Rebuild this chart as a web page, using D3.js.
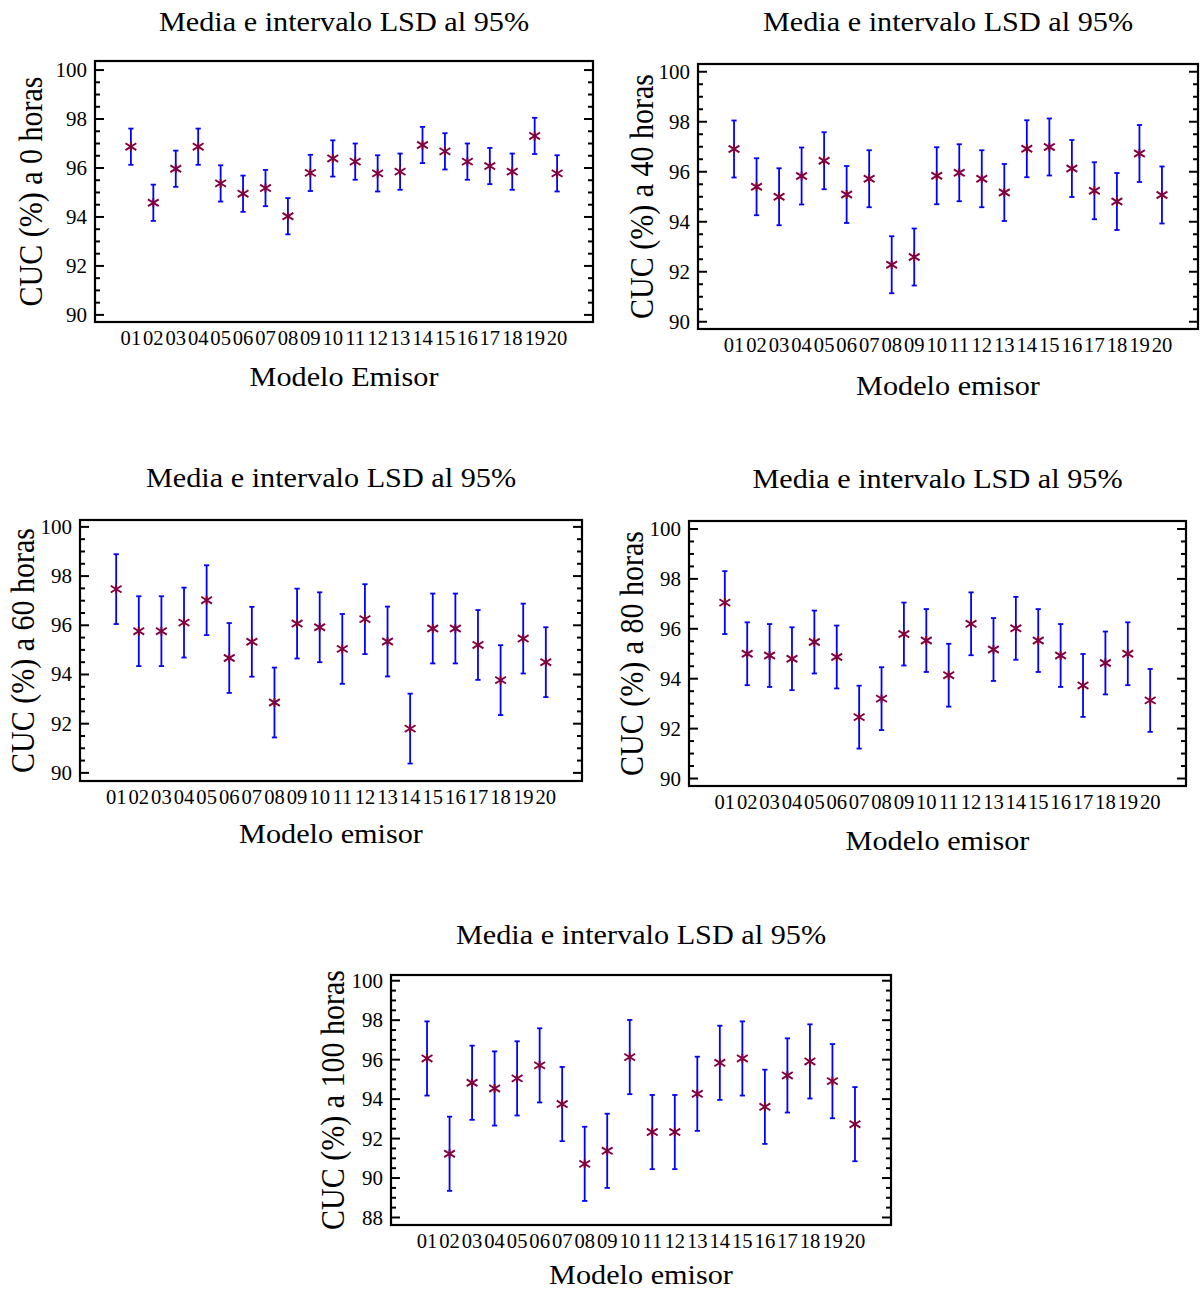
<!DOCTYPE html>
<html>
<head>
    <title>CUC</title>
    <style>
        body { margin: 0; background: #fff; }
        text { font-family: "Liberation Serif", "Times New Roman", serif; fill: #000; }
    </style>
</head>
<body>
    <script src="https://d3js.org/d3.v7.min.js"></script>
    <svg width="1203" height="1293" id="mainsvg"></svg>
    <script>
        // modelos de emisor
        const modelos = ["01","02","03","04","05","06","07","08","09","10",
                         "11","12","13","14","15","16","17","18","19","20"];

        // medias CUC (%)
        const media0   = [96.87, 94.58, 95.97, 96.87, 95.37, 94.95, 95.18, 94.03, 95.80, 96.39,
                          96.26, 95.78, 95.85, 96.94, 96.68, 96.26, 96.08, 95.85, 97.31, 95.78];
        const media40  = [96.91, 95.40, 95.00, 95.83, 96.44, 95.09, 95.72, 92.28, 92.59, 95.84,
                          95.96, 95.72, 95.17, 96.92, 96.99, 96.13, 95.24, 94.81, 96.73, 95.07];
        const media60  = [97.47, 95.76, 95.76, 96.11, 97.02, 94.67, 95.33, 92.86, 96.07, 95.92,
                          95.04, 96.25, 95.34, 91.80, 95.87, 95.87, 95.20, 93.77, 95.46, 94.50];
        const media80  = [97.05, 95.00, 94.93, 94.80, 95.47, 94.87, 92.46, 93.20, 95.79, 95.53,
                          94.14, 96.20, 95.17, 96.02, 95.53, 94.93, 93.73, 94.63, 95.00, 93.13];
        const media100 = [96.06, 91.23, 94.83, 94.54, 95.05, 95.71, 93.75, 90.72, 91.38, 96.13,
                          92.33, 92.33, 94.27, 95.84, 96.06, 93.61, 95.20, 95.91, 94.91, 92.73];

        // semi-amplitud del intervalo LSD al 95%
        const lsd = [0.74, 1.14, 1.42, 1.26, 1.88];

        const titulo = "Media e intervalo LSD al 95%";
        const ytitulos = ["CUC (%) a 0 horas", "CUC (%) a 40 horas", "CUC (%) a 60 horas",
                          "CUC (%) a 80 horas", "CUC (%) a 100 horas"];
        const xtitulos = ["Modelo Emisor", "Modelo emisor", "Modelo emisor", "Modelo emisor", "Modelo emisor"];
        const ydominios = [[89.71, 100.37], [89.71, 100.31], [89.67, 100.28], [89.70, 100.32], [87.62, 100.29]];
        const ymin = [90, 90, 90, 90, 88];

        // layout: frame x0, y0, x1, y1, y-title x, title gap, x-title gap
        const cajas = [
            [95, 61, 593, 322, 42, 30, 64],
            [698, 64, 1198, 329, 653, 33, 66],
            [80, 520, 582, 781, 34, 33, 62],
            [689, 521, 1186, 786, 643, 33, 64],
            [391, 975, 891, 1225, 344, 31, 59]
        ];
        const medias = [media0, media40, media60, media80, media100];

        const svg = d3.select('#mainsvg');

        function hText(g, x, y, txt, size, anchor, sx) {
            return g.append("text")
                .attr("transform", `translate(${x},${y}) scale(${sx},1)`)
                .attr("font-size", size)
                .attr("text-anchor", anchor)
                .text(txt);
        }

        medias.forEach((m, i) => {
            const [x0, y0, x1, y1, ytx, tgap, xgap] = cajas[i];
            const g = svg.append("g");

            const x = d3.scalePoint().domain(modelos).range([x0, x1]).padding(1.6);
            const y = d3.scaleLinear().domain(ydominios[i]).range([y1, y0]);

            // ticks
            const major = d3.range(ymin[i], 100.01, 2);
            const minor = d3.range(ymin[i], 100.01, 0.5).filter(v => Math.abs(v % 2) > 0.01);

            [[x0, 1], [x1, -1]].forEach(([xx, dir]) => {
                g.selectAll(null).data(major).join("line")
                    .attr("x1", xx).attr("x2", xx + dir * 9)
                    .attr("y1", d => y(d)).attr("y2", d => y(d))
                    .attr("stroke", "#000").attr("stroke-width", 2);
                g.selectAll(null).data(minor).join("line")
                    .attr("x1", xx).attr("x2", xx + dir * 5)
                    .attr("y1", d => y(d)).attr("y2", d => y(d))
                    .attr("stroke", "#000").attr("stroke-width", 2);
            });

            major.forEach(v => hText(g, x0 - 8, y(v) + 7, d3.format("d")(v), 20, "end", 1.05));

            g.append("rect")
                .attr("x", x0).attr("y", y0)
                .attr("width", x1 - x0).attr("height", y1 - y0)
                .attr("fill", "none").attr("stroke", "#000").attr("stroke-width", 2.2);

            // x labels
            modelos.forEach(d => hText(g, x(d), y1 + 23, d, 20, "middle", 1.03));

            // error bars
            const h = lsd[i];
            const bars = g.selectAll(null).data(m).join("g")
                .attr("transform", (d, k) => `translate(${x(modelos[k])},0)`);
            bars.append("line")
                .attr("y1", d => y(d + h)).attr("y2", d => y(d - h))
                .attr("stroke", "#0000ff").attr("stroke-width", 1.8);
            [1, -1].forEach(s => {
                bars.append("line")
                    .attr("x1", -2.6).attr("x2", 2.6)
                    .attr("y1", d => y(d + s * h)).attr("y2", d => y(d + s * h))
                    .attr("stroke", "#0000ff").attr("stroke-width", 1.8);
            });

            // asterisk markers
            const star = "M0,-4.5L0,4.5M-5.4,-3.4L5.4,3.4M-5.4,3.4L5.4,-3.4";
            bars.append("path")
                .attr("transform", d => `translate(0,${y(d)})`)
                .attr("d", star)
                .attr("fill", "none").attr("stroke", "#800040").attr("stroke-width", 1.9);

            // titles
            const cx = (x0 + x1) / 2;
            hText(g, cx, y0 - tgap, titulo, 27, "middle", 1.12);
            hText(g, cx, y1 + xgap, xtitulos[i], 27, "middle", 1.12);
            g.append("text")
                .attr("transform", `translate(${ytx},${(y0 + y1) / 2}) scale(1.1,1) rotate(-90)`)
                .attr("font-size", 30)
                .attr("text-anchor", "middle")
                .text(ytitulos[i]);
        });
    </script>
</body>
</html>
